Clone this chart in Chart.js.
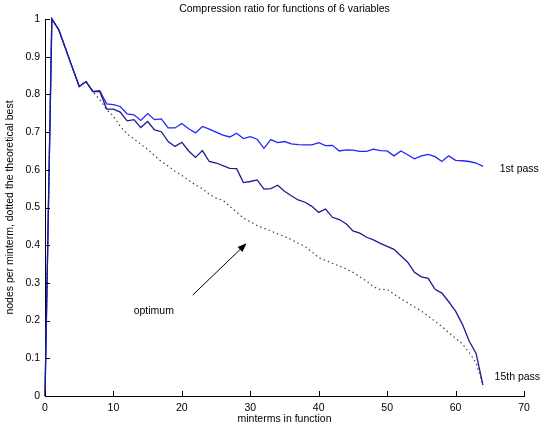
<!DOCTYPE html>
<html>
<head>
<meta charset="utf-8">
<script src="https://cdn.jsdelivr.net/npm/chart.js@4.4.1/dist/chart.umd.min.js"></script>
<style>
  html, body { margin: 0; padding: 0; background: #fff; }
  #wrap { width: 548px; height: 428px; }
</style>
</head>
<body>
<div id="wrap"><canvas id="ratioChart" width="548" height="428"></canvas></div>
<script>
// minterms in function
const minterms = [
  0, 1, 2, 3, 4, 5, 6, 7, 8, 9, 10, 11, 12, 13, 14, 15, 16,
  17, 18, 19, 20, 21, 22, 23, 24, 25, 26, 27, 28, 29, 30, 31, 32,
  33, 34, 35, 36, 37, 38, 39, 40, 41, 42, 43, 44, 45, 46, 47, 48,
  49, 50, 51, 52, 53, 54, 55, 56, 57, 58, 59, 60, 61, 62, 63, 64
]

// nodes per minterm after the first pass
const firstPass = [
  0, 1, 0.972, 0.922, 0.871, 0.821, 0.834, 0.808, 0.81, 0.775, 0.773, 0.768, 0.748, 0.746, 0.731, 0.749, 0.733,
  0.735, 0.711, 0.711, 0.723, 0.709, 0.698, 0.715, 0.708, 0.70, 0.692, 0.687, 0.697, 0.683, 0.688, 0.681, 0.657,
  0.680, 0.672, 0.675, 0.669, 0.667, 0.666, 0.666, 0.672, 0.664, 0.665, 0.650, 0.653, 0.652, 0.649, 0.649, 0.655,
  0.651, 0.650, 0.637, 0.650, 0.640, 0.629, 0.637, 0.641, 0.635, 0.622, 0.637, 0.625, 0.624, 0.622, 0.618, 0.609
]

// nodes per minterm after the 15th pass
const fifteenthPass = [
  0, 1, 0.972, 0.922, 0.871, 0.821, 0.834, 0.807, 0.808, 0.761, 0.761, 0.753, 0.730, 0.733, 0.712, 0.728, 0.706,
  0.701, 0.675, 0.662, 0.673, 0.650, 0.633, 0.651, 0.622, 0.618, 0.611, 0.604, 0.603, 0.566, 0.569, 0.573, 0.549,
  0.550, 0.559, 0.543, 0.531, 0.520, 0.514, 0.503, 0.487, 0.496, 0.474, 0.468, 0.457, 0.438, 0.432, 0.421, 0.414,
  0.405, 0.397, 0.389, 0.372, 0.355, 0.328, 0.316, 0.312, 0.283, 0.273, 0.250, 0.225, 0.19, 0.145, 0.113, 0.029
]

// theoretical best (dotted)
const optimum = [
  0, 1, 0.972, 0.922, 0.871, 0.821, 0.834, 0.807, 0.786, 0.76, 0.742, 0.715, 0.695, 0.682, 0.668, 0.654, 0.638,
  0.622, 0.61, 0.596, 0.585, 0.572, 0.56, 0.55, 0.535, 0.525, 0.519, 0.503, 0.488, 0.472, 0.462, 0.452, 0.445,
  0.438, 0.43, 0.423, 0.415, 0.405, 0.397, 0.382, 0.367, 0.36, 0.352, 0.345, 0.337, 0.328, 0.316, 0.305, 0.29,
  0.282, 0.283, 0.27, 0.258, 0.247, 0.236, 0.225, 0.212, 0.198, 0.184, 0.168, 0.153, 0.138, 0.115, 0.088, 0.029
]

const xTickValues = [0, 10, 20, 30, 40, 50, 60, 70]
const yTickValues = [0, 0.1, 0.2, 0.3, 0.4, 0.5, 0.6, 0.7, 0.8, 0.9, 1]

const chartTitle = 'Compression ratio for functions of 6 variables'
const xTitle = 'minterms in function'
const yTitle = 'nodes per minterm, dotted the theoretical best'

// text notes in data coordinates
const notes = [
  { text: '1st pass', x: 66.45, y: 0.603 },
  { text: '15th pass', x: 65.7, y: 0.050 },
  { text: 'optimum', x: 12.96, y: 0.226 }
]
const arrowFrom = { x: 21.6, y: 0.268 }
const arrowTo = { x: 29.45, y: 0.405 }

const FONT = '"Liberation Sans", Arial, Helvetica, sans-serif'
const FONT_SIZE = 10.5

const toPoints = values => minterms.map((m, i) => ({ x: m, y: values[i] }))

/**
 * Title, inward ticks and text notes.
 */
const overlay = {
  id: 'overlay',
  afterDraw (chart) {
    const { ctx, chartArea } = chart
    const { x, y } = chart.scales
    ctx.save()
    ctx.strokeStyle = '#000'
    ctx.lineWidth = 1
    xTickValues.forEach(v => {
      const px = Math.round(x.getPixelForValue(v)) + 0.5
      ctx.beginPath()
      ctx.moveTo(px, chartArea.bottom)
      ctx.lineTo(px, chartArea.bottom - 5)
      ctx.stroke()
    })
    yTickValues.forEach(v => {
      const py = Math.round(y.getPixelForValue(v)) + 0.5
      ctx.beginPath()
      ctx.moveTo(chartArea.left, py)
      ctx.lineTo(chartArea.left + 5, py)
      ctx.stroke()
    })

    ctx.fillStyle = '#000'
    ctx.font = `${FONT_SIZE}px ${FONT}`
    ctx.textAlign = 'center'
    ctx.textBaseline = 'middle'
    ctx.fillText(chartTitle, (chartArea.left + chartArea.right) / 2, 9)

    ctx.textAlign = 'left'
    notes.forEach(n => ctx.fillText(n.text, x.getPixelForValue(n.x), y.getPixelForValue(n.y)))

    // arrow pointing at the optimum curve
    const x0 = x.getPixelForValue(arrowFrom.x)
    const y0 = y.getPixelForValue(arrowFrom.y)
    const x1 = x.getPixelForValue(arrowTo.x)
    const y1 = y.getPixelForValue(arrowTo.y)
    const ang = Math.atan2(y1 - y0, x1 - x0)
    ctx.beginPath()
    ctx.moveTo(x0, y0)
    ctx.lineTo(x1 - 6 * Math.cos(ang), y1 - 6 * Math.sin(ang))
    ctx.stroke()
    ctx.beginPath()
    ctx.moveTo(x1, y1)
    ctx.lineTo(x1 - 9 * Math.cos(ang) + 3.5 * Math.sin(ang), y1 - 9 * Math.sin(ang) - 3.5 * Math.cos(ang))
    ctx.lineTo(x1 - 9 * Math.cos(ang) - 3.5 * Math.sin(ang), y1 - 9 * Math.sin(ang) + 3.5 * Math.cos(ang))
    ctx.closePath()
    ctx.fill()
    ctx.restore()
  }
}

new Chart(document.getElementById('ratioChart'), {
  type: 'line',
  data: {
    datasets: [
      {
        label: '15th pass',
        data: toPoints(fifteenthPass),
        borderColor: '#1b1b94',
        borderWidth: 1.3,
        order: 1
      },
      {
        label: '1st pass',
        data: toPoints(firstPass),
        borderColor: '#2424ff',
        borderWidth: 1.3,
        order: 2
      },
      {
        label: 'optimum',
        data: toPoints(optimum),
        borderColor: '#444',
        borderWidth: 1.2,
        borderDash: [1.5, 3],
        order: 3
      }
    ]
  },
  options: {
    responsive: false,
    animation: false,
    devicePixelRatio: 1,
    clip: false,
    layout: { padding: { top: 19, right: 24, left: 0, bottom: 0 } },
    elements: {
      point: { radius: 0 },
      line: { tension: 0, fill: false }
    },
    plugins: {
      legend: { display: false },
      tooltip: { enabled: false }
    },
    scales: {
      x: {
        type: 'linear',
        min: 0,
        max: 70,
        afterFit: s => { s.height = 32 },
        afterBuildTicks: s => { s.ticks = xTickValues.map(v => ({ value: v })) },
        grid: { display: true, drawOnChartArea: false, drawTicks: false },
        border: { display: true, color: '#000', width: 1 },
        ticks: { color: '#000', padding: 6, maxRotation: 0, font: { family: FONT, size: FONT_SIZE } },
        title: { display: true, text: xTitle, color: '#000', padding: { top: 0, bottom: 3 }, font: { family: FONT, size: FONT_SIZE } }
      },
      y: {
        type: 'linear',
        min: 0,
        max: 1,
        afterFit: s => { s.width = 45 },
        afterBuildTicks: s => { s.ticks = yTickValues.map(v => ({ value: v })) },
        grid: { display: true, drawOnChartArea: false, drawTicks: false },
        border: { display: true, color: '#000', width: 1 },
        ticks: {
          color: '#000',
          padding: 5,
          font: { family: FONT, size: FONT_SIZE },
          callback: v => String(+v.toFixed(1))
        },
        title: { display: true, text: yTitle, color: '#000', padding: { top: 4, bottom: 0 }, font: { family: FONT, size: FONT_SIZE } }
      }
    }
  },
  plugins: [overlay]
})
</script>
</body>
</html>
